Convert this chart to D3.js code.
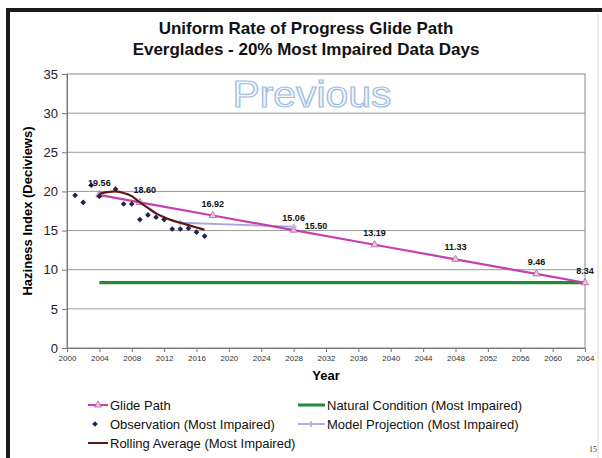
<!DOCTYPE html>
<html><head><meta charset="utf-8">
<script src="https://cdn.jsdelivr.net/npm/d3@7"></script>
<style>body{margin:0;background:#fff;} svg{display:block;font-family:"Liberation Sans",Arial,sans-serif;}</style>
</head><body>
<script>
// ---- data ----
const obsYears = [2001,2002,2003,2004,2006,2007,2008,2009,2010,2011,2012,2013,2014,2015,2016,2017];
const obsValues = [19.5,18.6,20.8,19.4,20.3,18.4,18.4,16.4,17.0,16.7,16.4,15.2,15.2,15.3,14.8,14.3];
const rollYears = [2004,2005,2006,2007,2008,2009,2010,2011,2012,2013,2014,2015,2016,2017];
const rollValues = [19.7,19.9,20.0,19.8,19.4,18.6,17.9,17.2,16.7,16.3,16.0,15.7,15.4,15.1];
const glideYears = [2004,2009,2018,2028,2038,2048,2058,2064];
const glideValues = [19.56,18.60,16.92,15.06,13.19,11.33,9.46,8.34];
const glideLabels = ["19.56","18.60","16.92","15.06","13.19","11.33","9.46","8.34"];
const modelYears = [2014,2028];
const modelValues = [16.0,15.50];
const naturalYears = [2004,2064];
const naturalValues = [8.34,8.34];
const xTicks = d3.range(2000,2065,4);
const yTicks = [0,5,10,15,20,25,30,35];
const legendItems = ["Glide Path","Natural Condition (Most Impaired)","Observation (Most Impaired)","Model Projection (Most Impaired)","Rolling Average (Most Impaired)"];

const W=602,H=458;
const svg=d3.select("body").append("svg").attr("width",W).attr("height",H);
svg.append("rect").attr("width",W).attr("height",H).attr("fill","#fff");
// frame
svg.append("path").attr("d","M8,458 L8,10 L602,10").attr("fill","none").attr("stroke","#1a1a1a").attr("stroke-width",4);
svg.append("line").attr("x1",598).attr("x2",598).attr("y1",14).attr("y2",458).attr("stroke","#d8d8d8");

const x=d3.scaleLinear().domain([2000,2064]).range([67,585]);
const y=d3.scaleLinear().domain([0,35]).range([348,74]);

// title
svg.append("text").attr("x",306).attr("y",34).attr("text-anchor","middle").attr("font-weight","bold").attr("font-size",17).attr("fill","#111").text("Uniform Rate of Progress Glide Path");
svg.append("text").attr("x",306).attr("y",55).attr("text-anchor","middle").attr("font-weight","bold").attr("font-size",17).attr("fill","#111").text("Everglades - 20% Most Impaired Data Days");

// grid
svg.append("g").selectAll("line").data(yTicks.filter(d=>d>0&&d<35)).join("line")
  .attr("x1",x(2000)).attr("x2",x(2064)).attr("y1",d=>y(d)).attr("y2",d=>y(d)).attr("stroke","#9a9a9a").attr("stroke-width",1);
svg.append("rect").attr("x",x(2000)).attr("y",y(35)).attr("width",x(2064)-x(2000)).attr("height",y(0)-y(35)).attr("fill","none").attr("stroke","#8a8a8a");

// watermark
svg.append("text").attr("x",312).attr("y",107).attr("text-anchor","middle").attr("font-size",36).attr("textLength",159).attr("lengthAdjust","spacingAndGlyphs")
  .attr("fill","#f2f6fc").attr("stroke","#9fbde2").attr("stroke-width",1.2).text("Previous");

// axes
const yAxis=d3.axisLeft(y).tickValues(yTicks).tickSize(5).tickPadding(4);
const gy=svg.append("g").attr("transform",`translate(${x(2000)},0)`).call(yAxis);
gy.select(".domain").attr("stroke","#777");
gy.selectAll(".tick line").attr("stroke","#777");
gy.selectAll("text").attr("font-size",13).attr("fill","#222").attr("font-family","Liberation Sans, Arial, sans-serif");
const xAxis=d3.axisBottom(x).tickValues(xTicks).tickFormat(d3.format("d")).tickSize(4).tickPadding(3);
const gx=svg.append("g").attr("transform",`translate(0,${y(0)})`).call(xAxis);
gx.select(".domain").attr("stroke","#777");
gx.selectAll(".tick line").attr("stroke","#777");
gx.selectAll("text").attr("font-size",8).attr("fill","#333").attr("font-family","Liberation Sans, Arial, sans-serif");

svg.append("text").attr("x",326).attr("y",380).attr("text-anchor","middle").attr("font-weight","bold").attr("font-size",13).text("Year");
svg.append("text").attr("transform","translate(32,211) rotate(-90)").attr("text-anchor","middle").attr("font-weight","bold").attr("font-size",13).text("Haziness Index (Deciviews)");

// lines
const line=d3.line().x(d=>x(d[0])).y(d=>y(d[1]));
const zip=(a,b)=>a.map((v,i)=>[v,b[i]]);
const natural=zip(naturalYears,naturalValues), model=zip(modelYears,modelValues), glide=zip(glideYears,glideValues), roll=zip(rollYears,rollValues), obs=zip(obsYears,obsValues);

svg.append("path").attr("d",line(natural)).attr("fill","none").attr("stroke","#23883a").attr("stroke-width",3.2);
svg.append("path").attr("d",line(model)).attr("fill","none").attr("stroke","#a6a6de").attr("stroke-width",1.8);
svg.append("path").attr("d",line(glide)).attr("fill","none").attr("stroke","#c63fb0").attr("stroke-width",2.2);
// glide markers
svg.append("g").selectAll("path").data(glide).join("path")
  .attr("transform",d=>`translate(${x(d[0])},${y(d[1])})`)
  .attr("d",d3.symbol(d3.symbolTriangle,22)).attr("fill","#e8c8e0").attr("stroke","#b05aa0").attr("stroke-width",0.8);
// model markers
svg.append("g").selectAll("path").data(model).join("path")
  .attr("transform",d=>`translate(${x(d[0])},${y(d[1])})`)
  .attr("d",d3.symbol(d3.symbolCross,20)).attr("fill","#b8b8e6");
// observations
svg.append("g").selectAll("path").data(obs).join("path")
  .attr("transform",d=>`translate(${x(d[0])},${y(d[1])}) rotate(45)`)
  .attr("d",d3.symbol(d3.symbolSquare,16)).attr("fill","#1c2350");
// rolling average
svg.append("path").attr("d",d3.line().curve(d3.curveCatmullRom).x(d=>x(d[0])).y(d=>y(d[1]))(roll)).attr("fill","none").attr("stroke","#5c1616").attr("stroke-width",2.2);

// labels
svg.append("g").selectAll("text").data(glide).join("text")
  .attr("x",(d,i)=>x(d[0])+(i===1?5:0)).attr("y",d=>y(d[1])-9).attr("text-anchor","middle")
  .attr("font-size",9).attr("font-weight","bold").attr("fill","#111").text((d,i)=>glideLabels[i]);
svg.append("text").attr("x",x(2028)+11).attr("y",y(15.50)+2).attr("font-size",9).attr("font-weight","bold").attr("fill","#111").text("15.50");

// legend
const lg=svg.append("g").attr("font-size",13).attr("fill","#111");
// row 1
lg.append("line").attr("x1",88).attr("x2",108).attr("y1",405).attr("y2",405).attr("stroke","#c63fb0").attr("stroke-width",2);
lg.append("path").attr("transform","translate(98,405)").attr("d",d3.symbol(d3.symbolTriangle,22)).attr("fill","#e8c8e0").attr("stroke","#b05aa0").attr("stroke-width",0.8);
lg.append("text").attr("x",110).attr("y",410).text(legendItems[0]);
lg.append("line").attr("x1",298).attr("x2",325).attr("y1",405).attr("y2",405).attr("stroke","#23883a").attr("stroke-width",3);
lg.append("text").attr("x",327).attr("y",410).text(legendItems[1]);
// row 2
lg.append("path").attr("transform","translate(95,424) rotate(45)").attr("d",d3.symbol(d3.symbolSquare,16)).attr("fill","#1c2350");
lg.append("text").attr("x",110).attr("y",429).text(legendItems[2]);
lg.append("line").attr("x1",298).attr("x2",325).attr("y1",424).attr("y2",424).attr("stroke","#a6a6de").attr("stroke-width",1.8);
lg.append("path").attr("transform","translate(311,424)").attr("d",d3.symbol(d3.symbolCross,20)).attr("fill","#b8b8e6");
lg.append("text").attr("x",327).attr("y",429).text(legendItems[3]);
// row 3
lg.append("line").attr("x1",88).attr("x2",108).attr("y1",443).attr("y2",443).attr("stroke","#5c1616").attr("stroke-width",2);
lg.append("text").attr("x",110).attr("y",448).text(legendItems[4]);

svg.append("text").attr("x",589).attr("y",452).attr("font-size",8).attr("font-family","Liberation Serif, serif").attr("fill","#333").text("15");
</script>
</body></html>
